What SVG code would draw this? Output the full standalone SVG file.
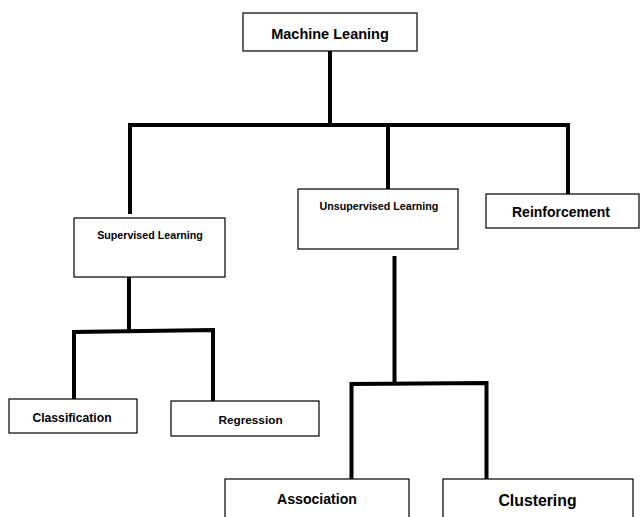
<svg xmlns="http://www.w3.org/2000/svg" width="641" height="517" viewBox="0 0 641 517">
<style>
.box{fill:#fff;stroke:#000;stroke-width:1.2}
.t{font-family:"Liberation Sans",Arial,sans-serif;font-weight:bold;fill:#000;text-anchor:middle}
.c{fill:none;stroke:#000;stroke-width:4;stroke-linecap:square;stroke-linejoin:miter}
</style>
<rect width="641" height="517" fill="#fff"/>
<g id="connectors">
<path class="c" d="M330,51 V125"/>
<path class="c" d="M130,212 V125 H568 V193"/>
<path class="c" d="M388,125 V189"/>
<path class="c" d="M129,277 V331"/>
<path class="c" d="M74,399 V332 L213,330 V401"/>
<path class="c" d="M394.5,258 V382"/>
<path class="c" d="M351.5,478 V384 L486.5,383 V478"/>
</g>
<g id="machine-learning">
<rect class="box" x="243" y="13" width="174" height="38"/>
<text class="t" x="330" y="39" font-size="14.5">Machine Leaning</text>
</g>
<g id="supervised">
<rect class="box" x="74" y="218" width="151" height="59"/>
<text class="t" x="150" y="239" font-size="10.7">Supervised Learning</text>
</g>
<g id="unsupervised">
<rect class="box" x="298" y="189" width="160" height="60"/>
<text class="t" x="379" y="210" font-size="10.7">Unsupervised Learning</text>
</g>
<g id="reinforcement">
<rect class="box" x="486" y="194" width="153" height="34"/>
<text class="t" x="561" y="217" font-size="14">Reinforcement</text>
</g>
<g id="classification">
<rect class="box" x="9" y="399" width="128" height="34"/>
<text class="t" x="72" y="422" font-size="12.2">Classification</text>
</g>
<g id="regression">
<rect class="box" x="171" y="401" width="148" height="35"/>
<text class="t" x="250.5" y="424" font-size="11.8">Regression</text>
</g>
<g id="association">
<rect class="box" x="225" y="479" width="184" height="45"/>
<text class="t" x="317" y="503.5" font-size="14.1">Association</text>
</g>
<g id="clustering">
<rect class="box" x="443" y="479" width="190" height="45"/>
<text class="t" x="537.5" y="506" font-size="15.8">Clustering</text>
</g>
</svg>
